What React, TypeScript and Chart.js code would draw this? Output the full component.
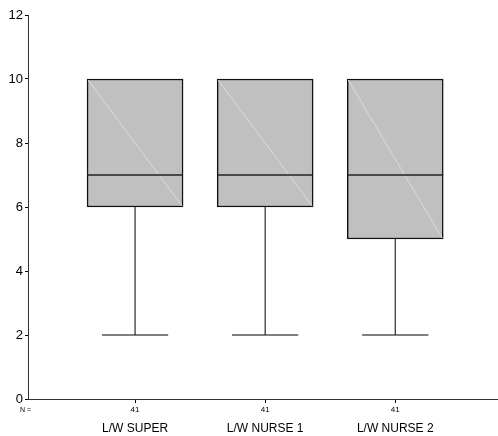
import React, { useEffect, useRef } from "react";
import { Chart, registerables } from "chart.js";

Chart.register(...registerables);

const categories = ["L/W SUPER", "L/W NURSE 1", "L/W NURSE 2"];
const positions = [1, 2, 3];
const mins = [2, 2, 2];
const q1s = [6, 6, 5];
const medians = [7, 7, 7];
const q3s = [10, 10, 10];
const maxs = [10, 10, 10];
const counts = [41, 41, 41];
const yTicks = [0, 2, 4, 6, 8, 10, 12];

const FONT = "Arial, 'Liberation Sans', Helvetica, sans-serif";

const boxPlugin = {
  id: "boxExtras",
  afterDatasetsDraw(chart: any) {
    const { ctx, scales } = chart;
    const xs = scales.x;
    const ys = scales.y;
    const meta = chart.getDatasetMeta(0);
    ctx.save();
    positions.forEach((p, i) => {
      const cx = xs.getPixelForValue(p);
      const bar = meta.data[i];
      const half = bar ? bar.width / 2 : 48;
      const capHalf = half * 0.69;
      const yMin = ys.getPixelForValue(mins[i]);
      const yQ1 = ys.getPixelForValue(q1s[i]);
      const yQ3 = ys.getPixelForValue(q3s[i]);
      const yMax = ys.getPixelForValue(maxs[i]);
      const yMed = ys.getPixelForValue(medians[i]);
      // faint diagonal
      ctx.strokeStyle = "#dcdcdc";
      ctx.lineWidth = 1;
      ctx.beginPath();
      ctx.moveTo(cx - half + 1, yQ3 + 1);
      ctx.lineTo(cx + half - 1, yQ1 - 1);
      ctx.stroke();
      // whiskers
      ctx.strokeStyle = "#000";
      ctx.lineWidth = 1;
      ctx.beginPath();
      ctx.moveTo(cx, yQ1);
      ctx.lineTo(cx, yMin);
      ctx.moveTo(cx - capHalf, yMin);
      ctx.lineTo(cx + capHalf, yMin);
      if (maxs[i] > q3s[i]) {
        ctx.moveTo(cx, yQ3);
        ctx.lineTo(cx, yMax);
        ctx.moveTo(cx - capHalf, yMax);
        ctx.lineTo(cx + capHalf, yMax);
      }
      ctx.stroke();
      // median
      ctx.strokeStyle = "#222";
      ctx.lineWidth = 1.5;
      ctx.beginPath();
      ctx.moveTo(cx - half, yMed);
      ctx.lineTo(cx + half, yMed);
      ctx.stroke();
    });
    ctx.restore();
  },
  afterDraw(chart: any) {
    const { ctx, scales } = chart;
    const xs = scales.x;
    const ys = scales.y;
    const yRow = ys.bottom + 11;
    ctx.save();
    ctx.fillStyle = "#000";
    ctx.textBaseline = "middle";
    ctx.textAlign = "center";
    ctx.font = `8px ${FONT}`;
    positions.forEach((p, i) => {
      ctx.fillText(String(counts[i]), xs.getPixelForValue(p), yRow);
    });
    ctx.textAlign = "left";
    ctx.font = `7px ${FONT}`;
    ctx.fillText("N =", 20, yRow);
    ctx.restore();
  },
};

export default function App() {
  const ref = useRef<HTMLCanvasElement | null>(null);
  useEffect(() => {
    document.body.style.margin = "0";
    const canvas = ref.current;
    if (!canvas) return;
    const chart = new Chart(canvas, {
      type: "bar",
      data: {
        datasets: [
          {
            data: positions.map((p, i) => ({ x: p, y: [q1s[i], q3s[i]] })) as any,
            backgroundColor: "#c0c0c0",
            borderColor: "#111",
            borderWidth: 1.5,
            borderSkipped: false,
            barThickness: 96,
          },
        ],
      },
      options: {
        responsive: false,
        animation: false,
        devicePixelRatio: 1,
        layout: { padding: { top: 15, left: 0, right: 0, bottom: 0 } },
        plugins: {
          legend: { display: false },
          tooltip: { enabled: false },
        },
        scales: {
          x: {
            type: "linear",
            offset: false,
            min: 0.177,
            max: 3.79,
            afterBuildTicks: (s: any) => {
              s.ticks = positions.map((v) => ({ value: v }));
            },
            afterFit: (s: any) => {
              s.height = 37;
            },
            grid: {
              display: true,
              offset: false,
              drawOnChartArea: false,
              drawTicks: true,
              tickLength: 4,
              color: "#000",
            },
            border: { display: true, color: "#333", width: 1 },
            ticks: {
              autoSkip: false,
              maxRotation: 0,
              padding: 18,
              color: "#000",
              font: { family: FONT, size: 12 },
              callback: (_v: any, i: number) => categories[i],
            },
          },
          y: {
            type: "linear",
            min: 0,
            max: 12,
            afterBuildTicks: (s: any) => {
              s.ticks = yTicks.map((v) => ({ value: v }));
            },
            afterFit: (s: any) => {
              s.width = 28;
            },
            grid: {
              display: true,
              drawOnChartArea: false,
              drawTicks: true,
              tickLength: 3,
              color: "#000",
            },
            border: { display: true, color: "#333", width: 1 },
            ticks: {
              padding: 2,
              color: "#000",
              font: { family: FONT, size: 13 },
            },
          },
        },
      },
      plugins: [boxPlugin],
    });
    return () => chart.destroy();
  }, []);
  return (
    <div style={{ width: 498, height: 436 }}>
      <canvas ref={ref} width={498} height={436} />
    </div>
  );
}
